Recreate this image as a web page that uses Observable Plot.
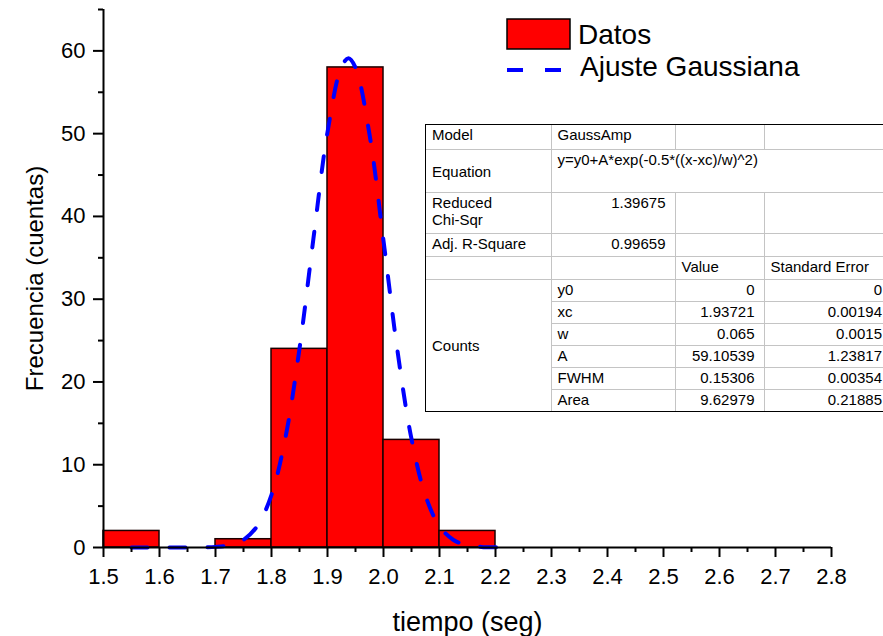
<!DOCTYPE html>
<html>
<head>
<meta charset="utf-8">
<script src="https://cdn.jsdelivr.net/npm/d3@7"></script>
<script src="https://cdn.jsdelivr.net/npm/@observablehq/plot@0.6"></script>
<style>
  body { margin: 0; background: #fff; }
  #wrap { position: relative; width: 883px; height: 636px; overflow: hidden;
          font-family: "Liberation Sans", Arial, sans-serif; color: #000; background: #fff; }
  #wrap > svg { display: block; }
  #legend { position: absolute; left: 0; top: 0; }
  #fitbox { position: absolute; left: 425px; top: 124px; width: 462px; border: 1px solid #000; background: #fff; }
  #fitbox table { width: 462px; border-collapse: collapse; border-style: hidden; table-layout: fixed;
                  font-size: 15px; line-height: 17px; }
  #fitbox td { border: 1px solid #c4c4c4; padding: 1px 9px 0 6px; vertical-align: top;
               white-space: nowrap; overflow: hidden; }
  #fitbox td.num { text-align: right; }
  #fitbox td.mid { vertical-align: middle; }
  #fitbox td.last { padding-right: 6px; }
</style>
</head>
<body>
<div id="wrap"></div>
<script>
// Histogram bins (seconds) and counts
const binStart = [1.5, 1.6, 1.7, 1.8, 1.9, 2.0, 2.1];
const binEnd   = [1.6, 1.7, 1.8, 1.9, 2.0, 2.1, 2.2];
const counts   = [2, 0, 1, 24, 58, 13, 2];

// Fitted Gaussian curve, sampled along x
const curveX = [1.550, 1.575, 1.600, 1.625, 1.650, 1.675, 1.700, 1.725, 1.750, 1.775,
                1.800, 1.825, 1.850, 1.875, 1.900, 1.925, 1.9375, 1.950, 1.975, 2.000,
                2.025, 2.050, 2.075, 2.100, 2.125, 2.150, 2.175, 2.200, 2.225];
const curveY = [0.000, 0.000, 0.000, 0.001, 0.003, 0.017, 0.076, 0.287, 0.934, 2.625,
                6.37, 13.32, 24.03, 37.38, 50.17, 58.07, 59.10, 57.97, 49.91, 37.07,
                23.74, 13.12, 6.25, 2.57, 0.91, 0.278, 0.073, 0.017, 0.003];

// Axis ticks
const xTicks = [1.5, 1.6, 1.7, 1.8, 1.9, 2.0, 2.1, 2.2, 2.3, 2.4, 2.5, 2.6, 2.7, 2.8];
const xMinor = [1.55, 1.65, 1.75, 1.85, 1.95, 2.05, 2.15, 2.25, 2.35, 2.45, 2.55, 2.65, 2.75];
const yTicks = [0, 10, 20, 30, 40, 50, 60];
const yMinor = [5, 15, 25, 35, 45, 55, 65];

// Fit report
const fitModel = "GaussAmp";
const fitEquation = "y=y0+A*exp(-0.5*((x-xc)/w)^2)";
const redChiSqr = "1.39675";
const adjRSquare = "0.99659";
const paramNames  = ["y0", "xc", "w", "A", "FWHM", "Area"];
const paramValues = ["0", "1.93721", "0.065", "59.10539", "0.15306", "9.62979"];
const paramErrors = ["0", "0.00194", "0.0015", "1.23817", "0.00354", "0.21885"];

// Legend entries
const legendBars = "Datos";
const legendFit = "Ajuste Gaussiana";

const bins = binStart.map((x0, i) => ({x0, x1: binEnd[i], count: counts[i]}));
const fit = curveX.map((x, i) => ({x, y: curveY[i]}));
const font = "'Liberation Sans', Arial, sans-serif";

const chart = Plot.plot({
  width: 883,
  height: 636,
  marginLeft: 103,
  marginRight: 52,
  marginTop: 9,
  marginBottom: 89,
  x: {domain: [1.5, 2.8]},
  y: {domain: [0, 65]},
  style: {fontFamily: font, color: "#000", background: "#fff", overflow: "visible"},
  marks: [
    Plot.rectY(bins, {x1: "x0", x2: "x1", y: "count", fill: "#ff0000", stroke: "#1a0000", strokeWidth: 1.5}),
    Plot.line(fit, {x: "x", y: "y", stroke: "#0000ff", strokeWidth: 4, strokeDasharray: "16,22", curve: "catmull-rom"}),
    Plot.ruleY([0], {stroke: "#000", strokeWidth: 2}),
    Plot.ruleX([1.5], {stroke: "#000", strokeWidth: 2}),
    Plot.axisX(xTicks, {tickSize: 10, tickPadding: 11, strokeWidth: 2, fontSize: 22,
                        tickFormat: d => d.toFixed(1), label: null}),
    Plot.axisX(xMinor, {tickSize: 5, strokeWidth: 2, fill: "none", label: null}),
    Plot.axisY(yTicks, {tickSize: 10, tickPadding: 8, strokeWidth: 2, fontSize: 22, label: null}),
    Plot.axisY(yMinor, {tickSize: 5, strokeWidth: 2, fill: "none", label: null}),
    Plot.text(["tiempo (seg)"], {text: d => d, frameAnchor: "bottom", textAnchor: "middle",
                                 lineAnchor: "bottom", dy: 83, fontSize: 27}),
    Plot.text(["Frecuencia (cuentas)"], {text: d => d, frameAnchor: "left", textAnchor: "middle",
                                         rotate: -90, dx: -68, fontSize: 24})
  ]
});

const wrap = document.getElementById("wrap");
wrap.appendChild(chart);

// Legend
const ns = "http://www.w3.org/2000/svg";
const leg = document.createElementNS(ns, "svg");
leg.setAttribute("id", "legend");
leg.setAttribute("width", 883);
leg.setAttribute("height", 100);
leg.innerHTML = `
  <rect x="507" y="19" width="63" height="30" fill="#ff0000" stroke="#000" stroke-width="1.5"></rect>
  <text x="578" y="44" font-size="28" font-family="${font}">${legendBars}</text>
  <line x1="507" x2="561" y1="70" y2="70" stroke="#0000ff" stroke-width="4" stroke-dasharray="16,22"></line>
  <text x="580" y="76" font-size="28" font-family="${font}">${legendFit}</text>`;
wrap.appendChild(leg);

// Fit parameters table
const box = document.createElement("div");
box.id = "fitbox";
let rows = `
  <colgroup><col style="width:125px"><col style="width:124px"><col style="width:89px"><col style="width:124px"></colgroup>
  <tr style="height:24px"><td>Model</td><td>${fitModel}</td><td></td><td></td></tr>
  <tr style="height:43px"><td class="mid">Equation</td><td colspan="3">${fitEquation}</td></tr>
  <tr style="height:41px"><td>Reduced<br>Chi-Sqr</td><td class="num">${redChiSqr}</td><td></td><td></td></tr>
  <tr style="height:23px"><td>Adj. R-Square</td><td class="num">${adjRSquare}</td><td></td><td></td></tr>
  <tr style="height:23px"><td></td><td></td><td>Value</td><td class="last">Standard Error</td></tr>`;
paramNames.forEach((p, i) => {
  rows += `<tr style="height:22px">${i === 0 ? `<td class="mid" rowspan="${paramNames.length}">Counts</td>` : ""}` +
          `<td>${p}</td><td class="num">${paramValues[i]}</td><td class="num last">${paramErrors[i]}</td></tr>`;
});
box.innerHTML = `<table>${rows}</table>`;
wrap.appendChild(box);
</script>
</body>
</html>
